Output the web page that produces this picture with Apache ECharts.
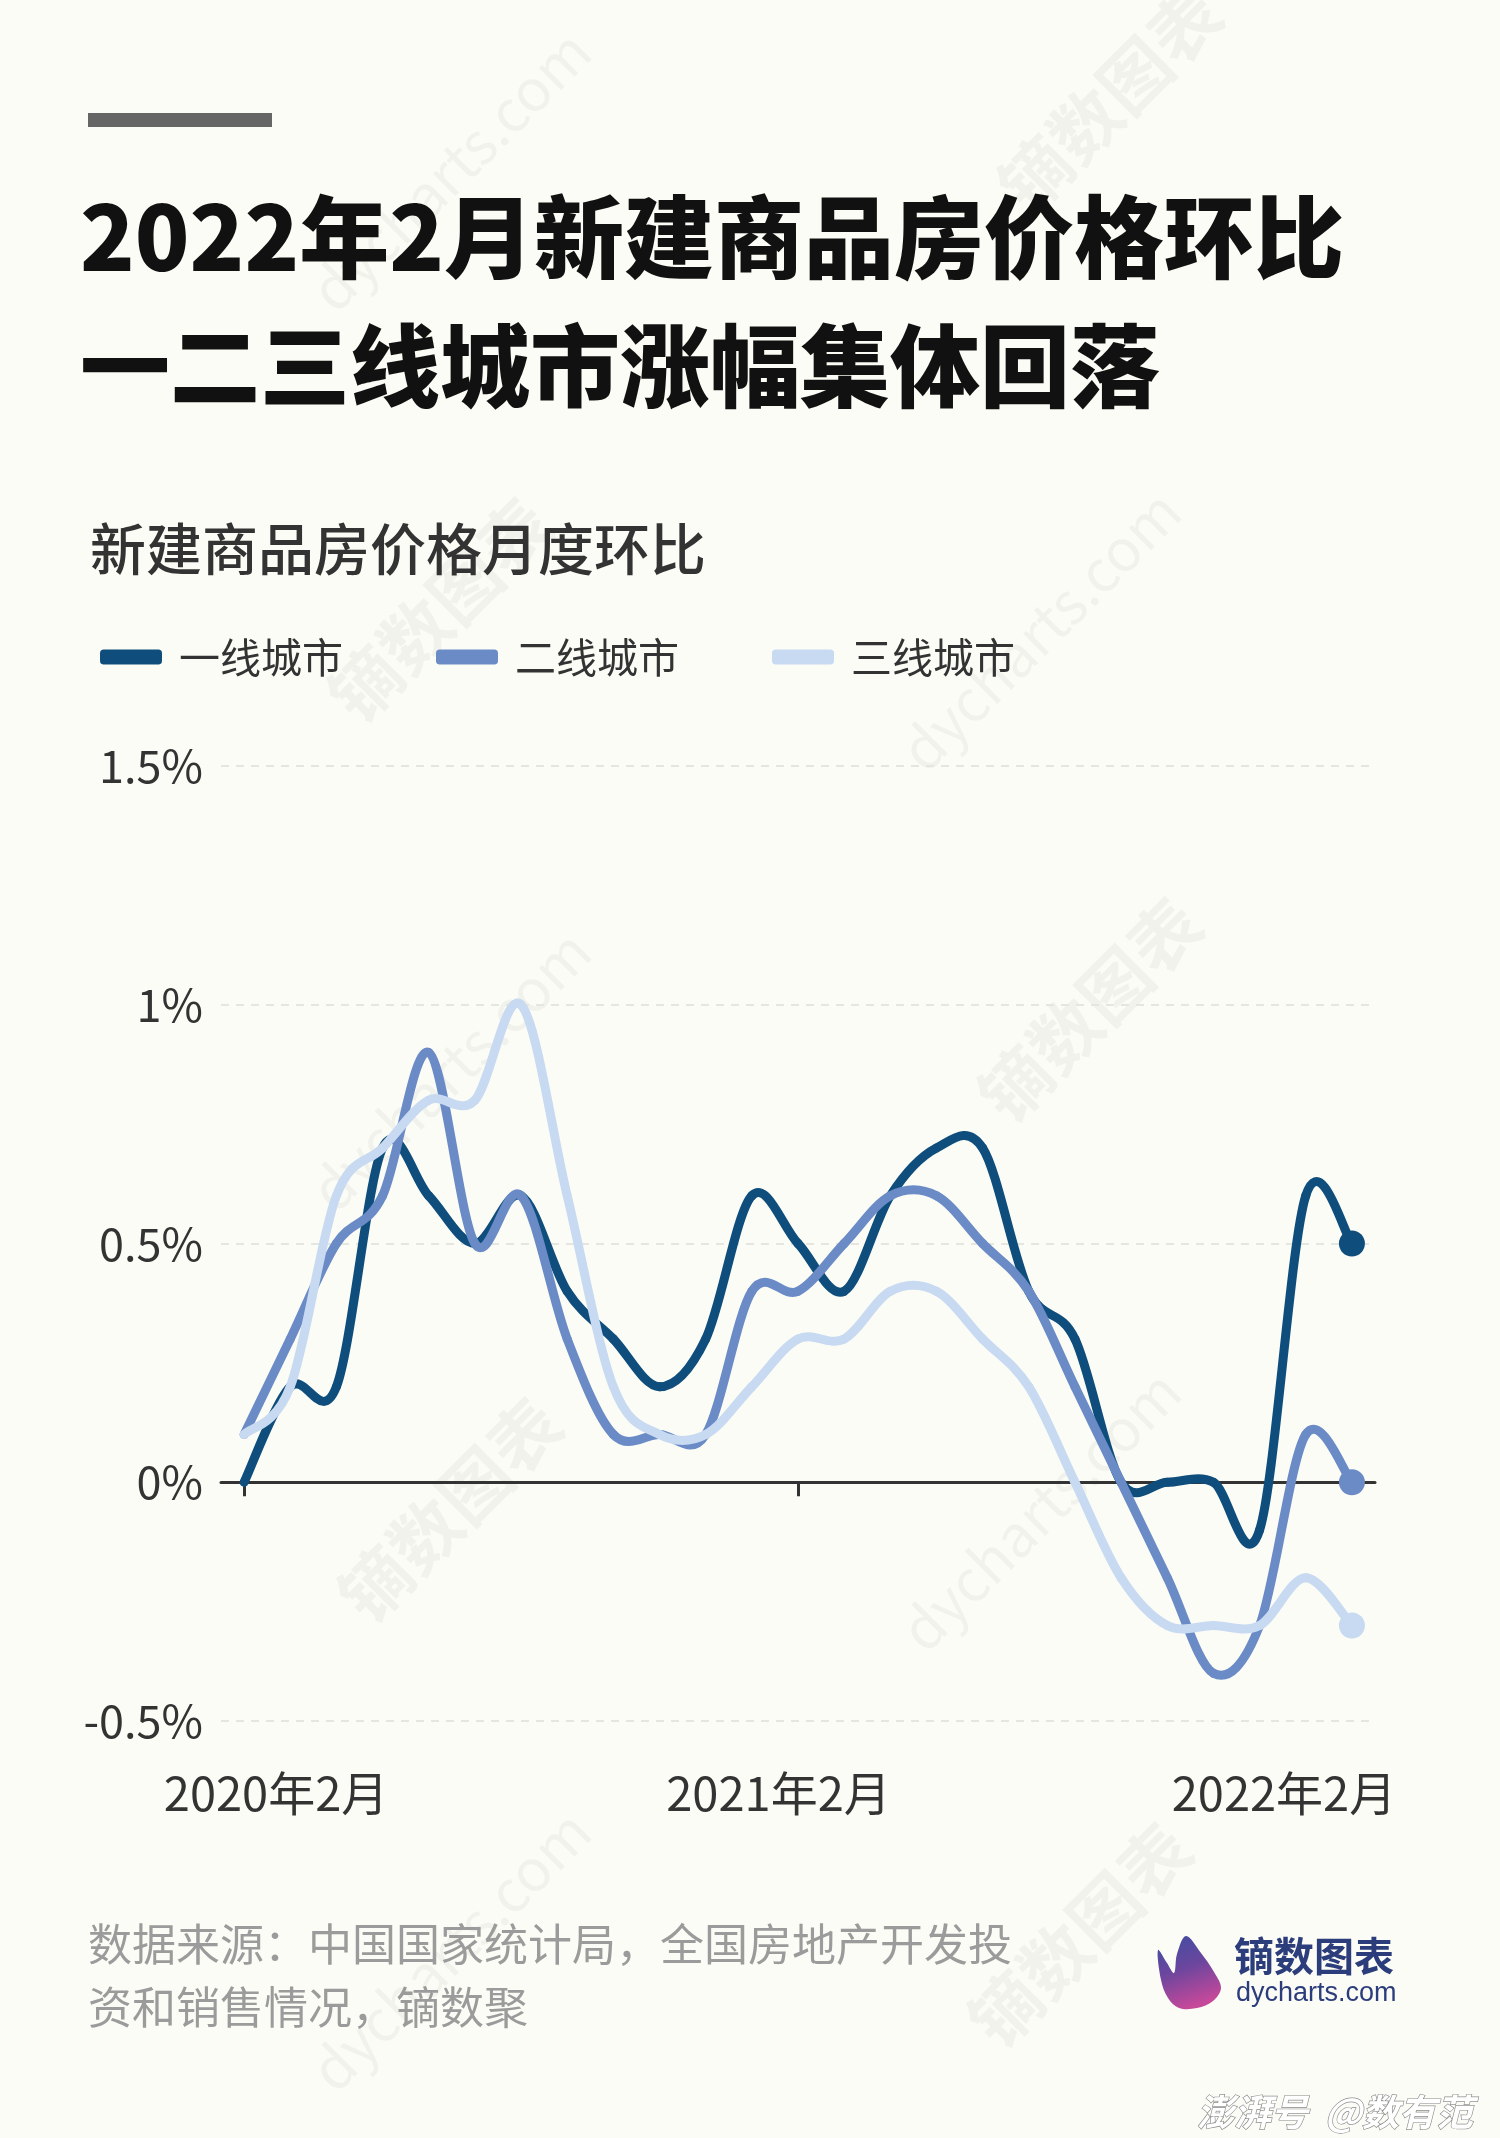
<!DOCTYPE html>
<html>
<head>
<meta charset="utf-8">
<script src="https://cdn.jsdelivr.net/npm/echarts@6/dist/echarts.min.js"></script>
<style>
html,body{margin:0;padding:0;background:#fcfcf6;}
#chart{width:1500px;height:2138px;}
</style>
</head>
<body>
<div id="chart"></div>
<script>
// ---------- data ----------
const months = [
  '2020年2月','2020年3月','2020年4月','2020年5月','2020年6月','2020年7月','2020年8月',
  '2020年9月','2020年10月','2020年11月','2020年12月','2021年1月','2021年2月','2021年3月',
  '2021年4月','2021年5月','2021年6月','2021年7月','2021年8月','2021年9月','2021年10月',
  '2021年11月','2021年12月','2022年1月','2022年2月'
];
const seriesNames = ['一线城市', '二线城市', '三线城市'];
const tier1 = [0.0, 0.2, 0.2, 0.7, 0.6, 0.5, 0.6, 0.4, 0.3, 0.2, 0.3, 0.6, 0.5, 0.4, 0.6, 0.7, 0.7, 0.4, 0.3, 0.0, 0.0, 0.0, -0.1, 0.6, 0.5];
const tier2 = [0.1, 0.3, 0.5, 0.6, 0.9, 0.5, 0.6, 0.3, 0.1, 0.1, 0.1, 0.4, 0.4, 0.5, 0.6, 0.6, 0.5, 0.4, 0.2, 0.0, -0.2, -0.4, -0.3, 0.1, 0.0];
const tier3 = [0.1, 0.2, 0.6, 0.7, 0.8, 0.8, 1.0, 0.6, 0.2, 0.1, 0.1, 0.2, 0.3, 0.3, 0.4, 0.4, 0.3, 0.2, 0.0, -0.2, -0.3, -0.3, -0.3, -0.2, -0.3];
const yMin = -0.5, yMax = 1.5, yStep = 0.5;
const xLabelIndices = [0, 12, 24];
const xTickIndices = [0, 12];

const titleText = '2022年2月新建商品房价格环比\n一二三线城市涨幅集体回落';
const subtitleText = '新建商品房价格月度环比';
const sourceText = '数据来源：中国国家统计局，全国房地产开发投\n资和销售情况，镝数聚';

// ---------- style ----------
const colors = ['#0f4e7c', '#6a8bc6', '#c7daf1'];
const FONT = '"Noto Sans CJK SC", "Noto Sans", sans-serif';
const lastIdx = months.length - 1;
const LINE_W = 9;
const END_R = 13;

const chart = echarts.init(document.getElementById('chart'), null, {renderer: 'canvas'});

// Catmull-Rom smoothed line, one cubic segment per data item, positioned by the axes (api.coord)
function smoothSeries(name, values, color) {
  return {
    name: name,
    type: 'custom',
    coordinateSystem: 'cartesian2d',
    xAxisIndex: 0,
    yAxisIndex: 0,
    data: values.map(function (v, i) { return [i, v]; }),
    encode: {x: 0, y: 1},
    itemStyle: {color: color},
    silent: true,
    renderItem: function (params, api) {
      const i = params.dataIndex;
      const n = values.length;
      const pt = function (k) {
        const kk = Math.max(0, Math.min(n - 1, k));
        return api.coord([kk, values[kk]]);
      };
      if (i === n - 1) {
        const p = pt(i);
        return {type: 'circle', shape: {cx: p[0], cy: p[1], r: END_R}, style: {fill: color}};
      }
      const p0 = pt(i - 1), p1 = pt(i), p2 = pt(i + 1), p3 = pt(i + 2);
      return {
        type: 'bezierCurve',
        shape: {
          x1: p1[0], y1: p1[1], x2: p2[0], y2: p2[1],
          cpx1: p1[0] + (p2[0] - p0[0]) / 6, cpy1: p1[1] + (p2[1] - p0[1]) / 6,
          cpx2: p2[0] - (p3[0] - p1[0]) / 6, cpy2: p2[1] - (p3[1] - p1[1]) / 6
        },
        style: {stroke: color, lineWidth: LINE_W, fill: null, lineCap: 'round', lineJoin: 'round'}
      };
    }
  };
}

const watermarkColor = 'rgba(0,0,0,0.04)';
const wmSpots = [
  {t: 'dycharts.com', x: 450, y: 170, s: 58, b: 'normal'},
  {t: '镝数图表', x: 1110, y: 100, s: 70, b: 'bold'},
  {t: '镝数图表', x: 440, y: 610, s: 70, b: 'bold'},
  {t: 'dycharts.com', x: 1040, y: 630, s: 58, b: 'normal'},
  {t: 'dycharts.com', x: 450, y: 1070, s: 58, b: 'normal'},
  {t: '镝数图表', x: 1090, y: 1010, s: 70, b: 'bold'},
  {t: '镝数图表', x: 450, y: 1510, s: 70, b: 'bold'},
  {t: 'dycharts.com', x: 1040, y: 1510, s: 58, b: 'normal'},
  {t: 'dycharts.com', x: 450, y: 1950, s: 58, b: 'normal'},
  {t: '镝数图表', x: 1080, y: 1935, s: 70, b: 'bold'}
];
const watermarks = wmSpots.map(function (w) {
  return {
    type: 'text', x: w.x, y: w.y, rotation: Math.PI / 4, z: -10, silent: true,
    style: {text: w.t, fill: watermarkColor, font: w.b + ' ' + w.s + 'px ' + FONT, align: 'center', verticalAlign: 'middle'}
  };
});

const option = {
  backgroundColor: '#fcfcf6',
  animation: false,
  textStyle: {fontFamily: FONT},
  title: [
    {
      text: titleText, left: 80, top: 172, padding: 0,
      textStyle: {fontSize: 90, fontWeight: 900, color: '#111111', lineHeight: 129, fontFamily: FONT}
    },
    {
      text: subtitleText, left: 90, top: 517, padding: 0,
      textStyle: {fontSize: 56, fontWeight: 500, color: '#333333', lineHeight: 64, fontFamily: FONT}
    },
    {
      text: sourceText, left: 88, top: 1913, padding: 0,
      textStyle: {fontSize: 44, fontWeight: 'normal', color: '#9b9b9b', lineHeight: 63, fontFamily: FONT}
    }
  ],
  legend: {
    data: seriesNames,
    left: 100, top: 633, padding: 0,
    itemWidth: 62, itemHeight: 15, itemGap: 93,
    icon: 'roundRect',
    itemStyle: {borderRadius: 7.5},
    textStyle: {fontSize: 41, color: '#333333', fontFamily: FONT, padding: [0, 0, 0, 12], lineHeight: 48},
    selectedMode: false
  },
  grid: {left: 221, right: 125, top: 766, bottom: 417, containLabel: false},
  xAxis: [
    {
      type: 'category', data: months, position: 'bottom', boundaryGap: true,
      axisLine: {show: true, onZero: true, lineStyle: {color: '#333333', width: 3}},
      axisTick: {
        show: true, alignWithLabel: true, length: 14, lineStyle: {color: '#333333', width: 3},
        interval: function (i) { return xTickIndices.indexOf(i) >= 0; }
      },
      axisLabel: {show: false},
      splitLine: {show: false}
    },
    {
      type: 'category', data: months, position: 'bottom', boundaryGap: true,
      axisLine: {show: false, onZero: false},
      axisTick: {show: false},
      splitLine: {show: false},
      axisLabel: {
        show: true, margin: 49,
        interval: function (i) { return xLabelIndices.indexOf(i) >= 0; },
        formatter: function (val, i) {
          if (i === 0) return '{a|' + val + '}';
          if (i === 12) return '{b|' + val + '}';
          return '{c|' + val + '}';
        },
        rich: {
          a: {fontSize: 47, color: '#333333', fontFamily: FONT, padding: [0, 0, 0, 64]},
          b: {fontSize: 47, color: '#333333', fontFamily: FONT, padding: [0, 39, 0, 0]},
          c: {fontSize: 47, color: '#333333', fontFamily: FONT, padding: [0, 136, 0, 0]}
        }
      }
    }
  ],
  yAxis: {
    type: 'value', min: yMin, max: yMax, interval: yStep,
    axisLine: {show: false},
    axisTick: {show: false},
    axisLabel: {
      margin: 18, fontSize: 45, color: '#333333', fontFamily: FONT,
      formatter: function (v) { return (Math.round(v * 10) / 10) + '%'; }
    },
    splitLine: {show: true, lineStyle: {color: '#e6e6e1', width: 2, type: [8, 7]}}
  },
  series: [
    smoothSeries(seriesNames[0], tier1, colors[0]),
    smoothSeries(seriesNames[1], tier2, colors[1]),
    smoothSeries(seriesNames[2], tier3, colors[2])
  ],
  graphic: watermarks.concat([
    {
      type: 'rect', shape: {x: 88, y: 113, width: 184, height: 14}, style: {fill: '#666666'}, silent: true
    },
    {
      type: 'polygon', x: 1157, y: 1936, silent: true,
      shape: {
        points: [[29, 0], [44, 17], [57, 36], [64, 52], [56, 65], [40, 72], [22, 72], [11, 62], [4, 44], [1, 14], [10, 27], [17, 37], [20, 18]],
        smooth: 0.35
      },
      style: {
        fill: {
          type: 'linear', x: 0, y: 0, x2: 0.4, y2: 1,
          colorStops: [
            {offset: 0, color: '#3d4ea2'},
            {offset: 0.5, color: '#6c469e'},
            {offset: 1, color: '#c5489a'}
          ]
        }
      }
    },
    {
      type: 'text', x: 1234, y: 1956, silent: true,
      style: {text: '镝数图表', font: 'bold 40px ' + FONT, fill: '#2c3d7c', verticalAlign: 'middle'}
    },
    {
      type: 'text', x: 1236, y: 1994, silent: true,
      style: {text: 'dycharts.com', font: '27px "Liberation Sans", Arial, sans-serif', fill: '#2c3d7c', verticalAlign: 'middle'}
    },
    {
      type: 'text', x: 1197, y: 2112, silent: true,
      style: {
        text: '澎湃号  @数有范', font: 'italic bold 37px ' + FONT, fill: '#ffffff',
        stroke: '#8a8a8a', lineWidth: 1.3, verticalAlign: 'middle'
      }
    }
  ])
};

chart.setOption(option);
</script>
</body>
</html>
